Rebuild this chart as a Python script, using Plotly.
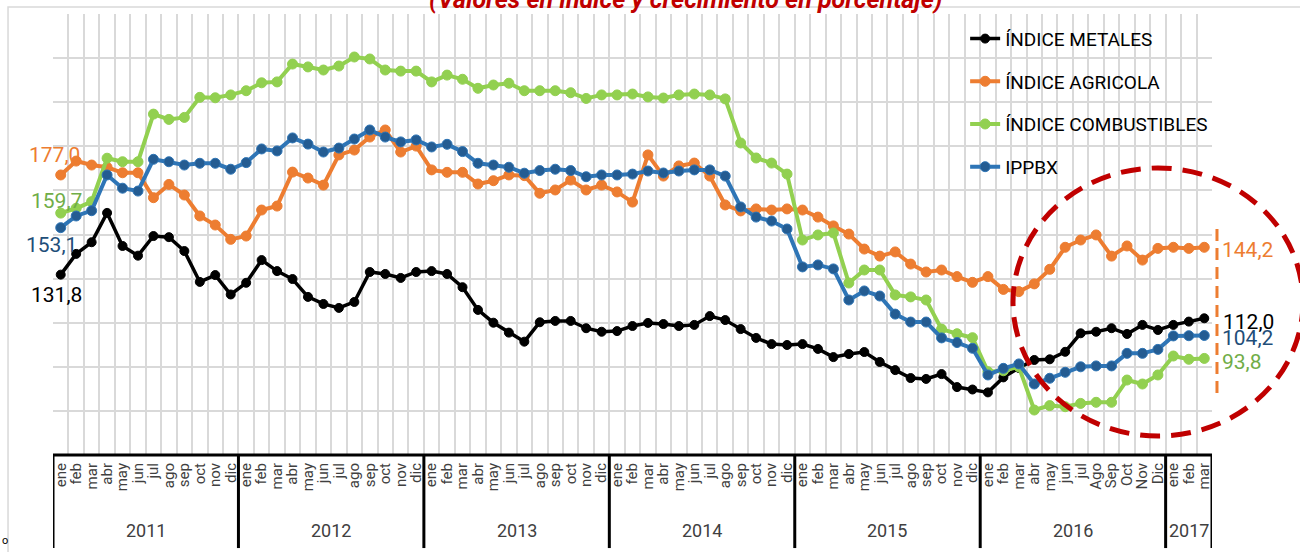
import plotly.graph_objects as go

meses = ["ene", "feb", "mar", "abr", "may", "jun", "jul", "ago", "sep", "oct", "nov", "dic"] * 5 \
    + ["ene", "feb", "mar", "abr", "may", "jun", "jul", "Ago", "Sep", "Oct", "Nov", "Dic"] \
    + ["ene", "feb", "mar"]
anios = ["2011", "2012", "2013", "2014", "2015", "2016", "2017"]
meses_por_anio = [12, 12, 12, 12, 12, 12, 3]

metales = [131.8, 141.2, 146.5, 159.8, 144.8, 140.4, 149.3, 148.8, 142.5, 128.5, 131.6, 122.8,
           128.1, 138.4, 133.4, 129.8, 121.7, 118.5, 116.7, 119.4, 133.0, 132.1, 130.3, 133.0,
           133.4, 132.1, 126.1, 115.8, 110.0, 105.5, 101.4, 110.2, 110.8, 110.8, 107.5, 105.9,
           106.2, 108.5, 109.9, 109.4, 108.5, 109.0, 113.0, 111.2, 107.1, 103.1, 100.3, 99.9,
           100.3, 98.1, 94.4, 95.8, 96.7, 92.2, 88.5, 84.9, 84.5, 86.7, 80.8, 79.7,
           78.4, 85.2, 89.5, 93.1, 93.4, 96.8, 105.2, 105.9, 107.5, 104.9, 109.0, 106.7,
           109.0, 110.5, 112.0]

agricola = [177.0, 183.3, 181.5, 180.5, 178.0, 178.0, 166.7, 172.7, 167.9, 158.4, 154.3, 147.8,
            149.3, 161.1, 162.9, 178.3, 175.6, 172.4, 186.1, 188.3, 194.2, 197.4, 187.4, 190.1,
            179.3, 178.2, 178.2, 172.9, 174.4, 177.0, 176.7, 168.7, 170.2, 174.7, 170.2, 172.4,
            169.3, 164.7, 186.1, 176.5, 181.1, 182.4, 176.5, 163.4, 160.7, 161.6, 161.1, 161.6,
            161.1, 157.9, 153.9, 150.2, 143.4, 140.2, 142.1, 136.6, 133.0, 133.9, 130.9, 128.3,
            130.9, 125.1, 124.1, 127.6, 134.2, 144.2, 147.5, 149.8, 140.2, 144.8, 138.4, 143.7,
            144.2, 143.7, 144.2]

combustibles = [159.7, 161.9, 164.9, 184.6, 183.0, 183.0, 204.6, 202.2, 203.1, 212.2, 212.0, 213.3,
                215.2, 218.8, 219.2, 227.3, 226.0, 224.6, 226.4, 230.5, 229.6, 224.6, 224.1, 224.1,
                219.2, 222.3, 220.4, 216.3, 217.8, 218.6, 215.2, 215.2, 215.2, 214.3, 211.7, 213.3,
                213.3, 213.7, 212.4, 211.9, 213.3, 213.7, 213.3, 211.5, 191.5, 184.7, 182.4, 177.4,
                147.5, 149.8, 150.7, 128.0, 133.9, 133.9, 122.6, 121.7, 120.3, 107.1, 105.0, 103.2,
                87.8, 88.2, 90.0, 70.4, 72.4, 71.9, 73.4, 73.9, 73.9, 84.0, 82.2, 86.3,
                94.9, 93.4, 93.8]

ippbx = [153.1, 158.4, 160.8, 177.0, 171.0, 169.7, 184.1, 183.0, 181.5, 182.3, 182.3, 179.6,
         182.6, 188.8, 187.9, 193.8, 191.0, 187.4, 189.2, 193.3, 197.4, 194.2, 192.0, 192.9,
         189.7, 190.9, 187.6, 182.3, 181.5, 180.5, 177.8, 179.0, 179.6, 179.0, 176.2, 177.0,
         177.0, 177.4, 178.8, 177.9, 178.8, 179.3, 179.3, 176.5, 162.5, 157.9, 156.1, 152.5,
         135.3, 136.2, 134.4, 120.3, 124.4, 122.1, 113.9, 110.3, 110.3, 103.1, 101.0, 98.4,
         86.3, 89.3, 91.3, 82.2, 84.8, 87.5, 90.0, 90.4, 90.4, 96.1, 96.1, 97.9,
         104.0, 104.1, 104.2]

etiquetas_inicio = ["131,8", "177,0", "159,7", "153,1"]
etiquetas_fin = ["112,0", "144,2", "93,8", "104,2"]

idx = list(range(len(meses)))
FONT = "Roboto"

series = [
    ("ÍNDICE METALES", metales, "#000000", "#000000", 3.5, 9),
    ("ÍNDICE AGRICOLA", agricola, "#ED7D31", "#ED7D31", 4, 10),
    ("ÍNDICE COMBUSTIBLES", combustibles, "#92D050", "#92D050", 4, 10),
    ("IPPBX", ippbx, "#2E75B6", "#245C92", 4, 10),
]

fig = go.Figure()
for k, (name, vals, col, mcol, lw, ms) in enumerate(series):
    fig.add_trace(go.Scatter(
        x=idx, y=vals, mode="lines+markers", name=name,
        line=dict(color=col, width=lw),
        marker=dict(size=ms, color=mcol, line=dict(width=1, color=col)),
        legendgroup=f"g{k}",
    ))

annotations = []
left_pos = [(0.0026, 0.3628, "#000000"), (0.0009, 0.680, "#ED7D31"),
            (0.0026, 0.576, "#70AD47"), (-0.0009, 0.476, "#1F4E79")]
for txt, (xx, yy, c) in zip(etiquetas_inicio, left_pos):
    annotations.append(dict(x=xx, y=yy, xref="paper", yref="paper", text=txt, showarrow=False,
                            xanchor="center", yanchor="middle",
                            font=dict(family=FONT, size=21, color=c)))
right_pos = [(1.0311, 0.3016, "#000000"), (1.0311, 0.4649, "#ED7D31"),
             (1.0259, 0.2109, "#70AD47"), (1.0311, 0.2653, "#1F4E79")]
for txt, (xx, yy, c) in zip(etiquetas_fin, right_pos):
    annotations.append(dict(x=xx, y=yy, xref="paper", yref="paper", text=txt, showarrow=False,
                            xanchor="center", yanchor="middle",
                            font=dict(family=FONT, size=21, color=c)))

shapes = []
start = -0.5
shapes.append(dict(type="line", xref="x", yref="paper", x0=start, x1=start, y0=0, y1=-0.211,
                   line=dict(color="black", width=3)))
for a, n in zip(anios, meses_por_anio):
    center = start + n / 2
    annotations.append(dict(x=center, y=-0.172, xref="x", yref="paper", text=a, showarrow=False,
                            xanchor="center", yanchor="middle",
                            font=dict(family=FONT, size=18, color="#404040")))
    start += n
    shapes.append(dict(type="line", xref="x", yref="paper", x0=start, x1=start, y0=0, y1=-0.211,
                       line=dict(color="black", width=3)))
shapes.append(dict(type="line", xref="x", yref="paper", x0=-0.5, x1=74.5, y0=0, y1=0,
                   line=dict(color="black", width=3)))

annotations.append(dict(x=0.546, y=1.034, xref="paper", yref="paper",
                        xanchor="center", yanchor="middle",
                        text="<b><i>(Valores en índice y crecimiento en porcentaje)</i></b>",
                        showarrow=False, font=dict(family=FONT, size=25, color="#C00000")))
annotations.append(dict(x=-0.0414, y=-0.195, xref="paper", yref="paper", text="o",
                        xanchor="center", yanchor="middle",
                        showarrow=False, font=dict(family=FONT, size=11, color="#000000")))

shapes.append(dict(type="rect", xref="paper", yref="paper", x0=-0.0388, x1=1.3, y0=-0.5, y1=1.0159,
                   line=dict(color="#D9D9D9", width=1.5), layer="below"))
shapes.append(dict(type="circle", xref="paper", yref="paper", x0=0.8283, x1=1.0785,
                   y0=0.0431, y1=0.6508, line=dict(color="#C00000", width=5, dash="20px,11px")))
shapes.append(dict(type="line", xref="paper", yref="paper", x0=1.0043, x1=1.0043,
                   y0=0.1406, y1=0.517, line=dict(color="#ED7D31", width=3, dash="12px,7px")))

fig.update_layout(
    width=1300, height=552,
    margin=dict(l=53, r=88, t=14, b=97),
    paper_bgcolor="white", plot_bgcolor="white",
    showlegend=True,
    legend=dict(x=0.787, y=0.987, xanchor="left", yanchor="top",
                bgcolor="rgba(0,0,0,0)", font=dict(family=FONT, size=19, color="black"),
                tracegroupgap=15, traceorder="grouped"),
    xaxis=dict(range=[-0.5, 74.5], tickmode="array", tickvals=idx, ticktext=meses,
               tickangle=-90, tickfont=dict(family=FONT, size=15, color="#404040"),
               showgrid=False, zeroline=False, showline=False, ticks="", ticklabelstandoff=4,
               minor=dict(tickmode="array", tickvals=[k - 0.5 for k in range(len(meses) + 1)],
                          showgrid=True, gridcolor="#D9D9D9", gridwidth=1.5, ticks="")),
    yaxis=dict(range=[50, 250], tickmode="linear", tick0=50, dtick=20, showgrid=True,
               gridcolor="#D9D9D9", gridwidth=1.5, showticklabels=False, zeroline=False,
               showline=False, ticks=""),
    annotations=annotations, shapes=shapes,
)

fig.write_html("out.html", config={"displayModeBar": False},
               post_script="document.body.style.margin='0px';document.body.style.padding='0px';")
